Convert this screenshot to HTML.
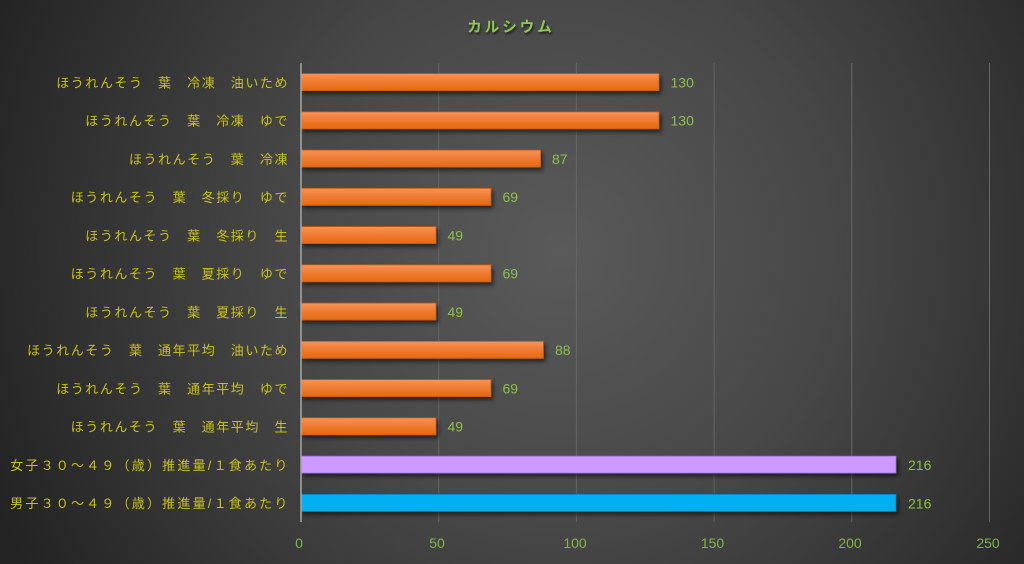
<!DOCTYPE html>
<html><head><meta charset="utf-8">
<style>
html,body{margin:0;padding:0;}
body{width:1024px;height:564px;overflow:hidden;}
svg{display:block;}
.cat{font-family:"Liberation Sans","Noto Sans CJK JP",sans-serif;font-size:13px;fill:#c9c21c;letter-spacing:1.55px;}
.val{font-family:"Liberation Sans",sans-serif;font-size:14px;fill:#8cbf4c;}
.tick{font-family:"Liberation Sans",sans-serif;font-size:14px;fill:#82b548;}
</style></head>
<body>
<svg width="1024" height="564" viewBox="0 0 1024 564" xmlns="http://www.w3.org/2000/svg">
<defs>
<radialGradient id="bg" cx="560" cy="250" r="620" gradientUnits="userSpaceOnUse">
<stop offset="0" stop-color="#5a5a5a"/>
<stop offset="0.45" stop-color="#474747"/>
<stop offset="1" stop-color="#232323"/>
</radialGradient>
<linearGradient id="org" x1="0" y1="0" x2="0" y2="1">
<stop offset="0" stop-color="#f5935a"/>
<stop offset="0.5" stop-color="#ef7a30"/>
<stop offset="1" stop-color="#e46a12"/>
</linearGradient>
<filter id="sh" x="-5%" y="-30%" width="110%" height="180%">
<feDropShadow dx="2" dy="3" stdDeviation="2" flood-color="#000" flood-opacity="0.55"/>
</filter>
<filter id="tsh" x="-10%" y="-30%" width="120%" height="180%">
<feDropShadow dx="1" dy="2" stdDeviation="1" flood-color="#000" flood-opacity="0.6"/>
</filter>
</defs>
<rect width="1024" height="564" fill="url(#bg)"/>

<text x="511" y="32" text-anchor="middle" font-family="Liberation Sans,'Noto Sans CJK JP',sans-serif" font-size="14.5" font-weight="bold" fill="#8cc850" letter-spacing="3" filter="url(#tsh)">カルシウム</text>

<!-- gridlines -->
<g stroke="#666" stroke-width="1">
<line x1="438.7" y1="63" x2="438.7" y2="522"/>
<line x1="576.4" y1="63" x2="576.4" y2="522"/>
<line x1="714.1" y1="63" x2="714.1" y2="522"/>
<line x1="851.8" y1="63" x2="851.8" y2="522"/>
<line x1="989.5" y1="63" x2="989.5" y2="522"/>
</g>

<!-- bars -->
<g filter="url(#sh)" stroke-width="0.8">
<rect x="301" y="73.6" width="358" height="17" fill="url(#org)" stroke="#c85a10"/>
<rect x="301" y="111.85" width="358" height="17" fill="url(#org)" stroke="#c85a10"/>
<rect x="301" y="150.1" width="239.6" height="17" fill="url(#org)" stroke="#c85a10"/>
<rect x="301" y="188.35" width="190" height="17" fill="url(#org)" stroke="#c85a10"/>
<rect x="301" y="226.6" width="135" height="17" fill="url(#org)" stroke="#c85a10"/>
<rect x="301" y="264.85" width="190" height="17" fill="url(#org)" stroke="#c85a10"/>
<rect x="301" y="303.1" width="135" height="17" fill="url(#org)" stroke="#c85a10"/>
<rect x="301" y="341.35" width="242.4" height="17" fill="url(#org)" stroke="#c85a10"/>
<rect x="301" y="379.6" width="190" height="17" fill="url(#org)" stroke="#c85a10"/>
<rect x="301" y="417.85" width="135" height="17" fill="url(#org)" stroke="#c85a10"/>
<rect x="301" y="456.1" width="595" height="17" fill="#cc99ff" stroke="#9a6fc8"/>
<rect x="301" y="494.35" width="595" height="17" fill="#00b0f0" stroke="#0080b0"/>
</g>

<!-- axis line -->
<line x1="301" y1="63" x2="301" y2="522" stroke="#a8a8a8" stroke-width="1.5"/>

<!-- category labels -->
<g class="cat" text-anchor="end">
<text x="289" y="87.4">ほうれんそう　葉　冷凍　油いため</text>
<text x="289" y="125.6">ほうれんそう　葉　冷凍　ゆで</text>
<text x="289" y="163.9">ほうれんそう　葉　冷凍</text>
<text x="289" y="202.1">ほうれんそう　葉　冬採り　ゆで</text>
<text x="289" y="240.4">ほうれんそう　葉　冬採り　生</text>
<text x="289" y="278.6">ほうれんそう　葉　夏採り　ゆで</text>
<text x="289" y="316.9">ほうれんそう　葉　夏採り　生</text>
<text x="289" y="355.1">ほうれんそう　葉　通年平均　油いため</text>
<text x="289" y="393.4">ほうれんそう　葉　通年平均　ゆで</text>
<text x="289" y="431.6">ほうれんそう　葉　通年平均　生</text>
<text x="289.6" y="469.9" letter-spacing="2.2">女子３０～４９（歳）推進量/１食あたり</text>
<text x="289.6" y="508.1" letter-spacing="2.2">男子３０～４９（歳）推進量/１食あたり</text>
</g>

<!-- value labels -->
<g class="val">
<text x="670.5" y="87.4">130</text>
<text x="670.5" y="125.6">130</text>
<text x="552" y="163.9">87</text>
<text x="502.5" y="202.1">69</text>
<text x="447.5" y="240.4">49</text>
<text x="502.5" y="278.6">69</text>
<text x="447.5" y="316.9">49</text>
<text x="555" y="355.1">88</text>
<text x="502.5" y="393.4">69</text>
<text x="447.5" y="431.6">49</text>
<text x="908" y="470.2">216</text>
<text x="908" y="508.4">216</text>
</g>

<!-- tick labels -->
<g class="tick" text-anchor="middle">
<text x="299" y="548">0</text>
<text x="437" y="548">50</text>
<text x="575" y="548">100</text>
<text x="712.5" y="548">150</text>
<text x="850" y="548">200</text>
<text x="988" y="548">250</text>
</g>
</svg>
</body></html>
